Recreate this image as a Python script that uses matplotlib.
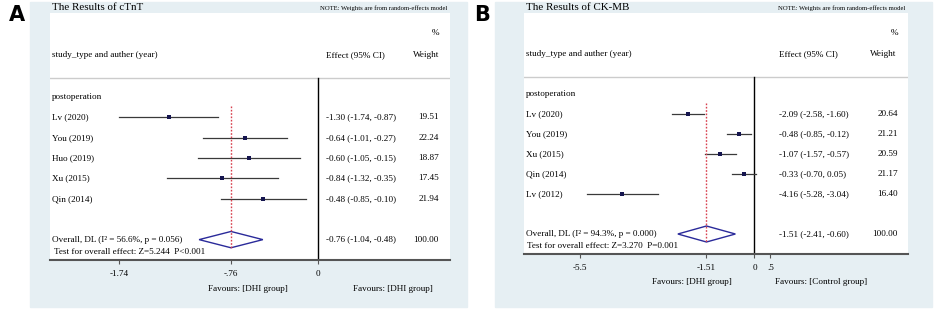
import numpy as np
import matplotlib.pyplot as plt
from matplotlib.patches import Rectangle, Polygon
from matplotlib.transforms import blended_transform_factory

plt.rcParams['font.family'] = ['Liberation Serif', 'DejaVu Serif']

W, H = 934, 309

# Panel A : cTnT
a_studies = ["Lv (2020)", "You (2019)", "Huo (2019)", "Xu (2015)", "Qin (2014)"]
a_eff = [-1.30, -0.64, -0.60, -0.84, -0.48]
a_lo = [-1.74, -1.01, -1.05, -1.32, -0.85]
a_hi = [-0.87, -0.27, -0.15, -0.35, -0.10]
a_w = [19.51, 22.24, 18.87, 17.45, 21.94]
a_overall = [-0.76, -1.04, -0.48]
a_het = "Overall, DL (I² = 56.6%, p = 0.056)"
a_test = "Test for overall effect: Z=5.244  P<0.001"
a_ticks = [-1.74, -0.76, 0]
a_ticklabels = ["-1.74", "-.76", "0"]
a_fav = ["Favours: [DHI group]", "Favours: [DHI group]"]

# Panel B : CK-MB
b_studies = ["Lv (2020)", "You (2019)", "Xu (2015)", "Qin (2014)", "Lv (2012)"]
b_eff = [-2.09, -0.48, -1.07, -0.33, -4.16]
b_lo = [-2.58, -0.85, -1.57, -0.70, -5.28]
b_hi = [-1.60, -0.12, -0.57, 0.05, -3.04]
b_w = [20.64, 21.21, 20.59, 21.17, 16.40]
b_overall = [-1.51, -2.41, -0.60]
b_het = "Overall, DL (I² = 94.3%, p = 0.000)"
b_test = "Test for overall effect: Z=3.270  P=0.001"
b_ticks = [-5.5, -1.51, 0, 0.5]
b_ticklabels = ["-5.5", "-1.51", "0", ".5"]
b_fav = ["Favours: [DHI group]", "Favours: [Control group]"]

bg = '#e6eff3'
navy = '#15154f'
fs = 6.6

fig = plt.figure(figsize=(W / 100, H / 100), dpi=100)


def fx(px):
    return px / W


def fy(py):
    return 1 - py / H


def panel(letter, title, box, ax_box, xlim, ytop, studies, eff, lo, hi, wts,
          overall, het, test, ticks, ticklabels, fav, fav_y, cols):
    x0, x1 = box
    fig.patches.append(Rectangle((fx(x0), fy(307)), fx(x1 - x0), (305) / H,
                                 transform=fig.transFigure, color=bg, zorder=-5))
    fig.text(fx(x0 - 13), fy(15), letter, fontsize=15, fontweight='bold',
             family='DejaVu Sans', ha='center', va='center')
    ax_l, ax_r, ax_t, ax_b = ax_box
    fig.text(fx(ax_l + 2), fy(7.5), title, fontsize=7.9, ha='left', va='center')
    fig.text(fx(ax_r - 3), fy(8), "NOTE: Weights are from random-effects model",
             fontsize=4.8, ha='right', va='center')
    ax = fig.add_axes([fx(ax_l), fy(ax_b), fx(ax_r - ax_l), (ax_b - ax_t) / H])
    ax.set_facecolor('white')
    ax.set_xlim(*xlim)
    ax.set_ylim(8, ytop)
    for s in ['top', 'left', 'right']:
        ax.spines[s].set_visible(False)
    ax.spines['bottom'].set_color('#555555')
    ax.spines['bottom'].set_linewidth(1.5)
    ax.set_yticks([])
    ax.set_xticks(ticks)
    ax.set_xticklabels(ticklabels, fontsize=fs)
    ax.tick_params(axis='x', length=3, width=0.8, color='#555555', pad=4)

    tr = blended_transform_factory(ax.transAxes, ax.transData)
    lab_x, eff_x, wt_x, wt_c = cols
    sep = ytop + 3.2
    ax.plot([0, 1], [sep, sep], transform=tr, color='#cccccc', lw=1)
    ax.plot([0, 0], [sep, 8], color='black', lw=1)
    ax.text(wt_x, ytop + 1.0, "%", transform=tr, fontsize=fs, ha='right', va='center')
    ax.text(lab_x, ytop + 2.05, "study_type and auther (year)", transform=tr,
            fontsize=fs, ha='left', va='center')
    ax.text(eff_x, ytop + 2.05, "Effect (95% CI)", transform=tr, fontsize=fs,
            ha='left', va='center')
    ax.text(wt_c, ytop + 2.05, "Weight", transform=tr, fontsize=fs,
            ha='center', va='center')
    ax.text(lab_x, 0, "postoperation", transform=tr, fontsize=fs, ha='left', va='center')

    rows = np.arange(1, len(studies) + 1)
    for r, name, e, l, h, w in zip(rows, studies, eff, lo, hi, wts):
        ax.plot([l, h], [r, r], color='#3a3a3a', lw=0.9)
        ax.plot(e, r, 's', color=navy, ms=3, mew=0)
        ax.text(lab_x, r, name, transform=tr, fontsize=fs, ha='left', va='center')
        ax.text(eff_x, r, f"{e:.2f} ({l:.2f}, {h:.2f})", transform=tr,
                fontsize=fs, ha='left', va='center')
        ax.text(wt_x, r, f"{w:.2f}", transform=tr, fontsize=fs, ha='right', va='center')

    e, l, h = overall
    ax.plot([e, e], [0.45, 7.42], color='#d8404e', lw=1.0, ls=(0, (1.2, 1.2)))
    ax.add_patch(Polygon([[l, 7], [e, 6.6], [h, 7], [e, 7.4]], closed=True,
                         fill=False, edgecolor='#2a2a9a', lw=1))
    ax.text(lab_x, 7, het, transform=tr, fontsize=fs, ha='left', va='center')
    ax.text(lab_x + 0.004, 7.6, test, transform=tr, fontsize=fs, ha='left', va='center')
    ax.text(eff_x, 7, f"{e:.2f} ({l:.2f}, {h:.2f})", transform=tr,
            fontsize=fs, ha='left', va='center')
    ax.text(wt_x, 7, "100.00", transform=tr, fontsize=fs, ha='right', va='center')

    fig.text(fx(fav[0][0]), fy(fav_y), fav[0][1], fontsize=fs, ha='center', va='center')
    fig.text(fx(fav[1][0]), fy(fav_y), fav[1][1], fontsize=fs, ha='center', va='center')


panel("A", "The Results of cTnT", (30, 467), (50, 450, 13, 260), (-2.349, 1.163), -4.12,
      a_studies, a_eff, a_lo, a_hi, a_w, a_overall, a_het, a_test,
      a_ticks, a_ticklabels, [(248, a_fav[0]), (393, a_fav[1])], 289,
      (0.005, 0.69, 0.9725, 0.94))
panel("B", "The Results of CK-MB", (495, 932), (524, 908, 13, 254), (-7.25, 4.83), -4.05,
      b_studies, b_eff, b_lo, b_hi, b_w, b_overall, b_het, b_test,
      b_ticks, b_ticklabels, [(692, b_fav[0]), (821, b_fav[1])], 282,
      (0.005, 0.664, 0.974, 0.935))

fig.savefig('out.png', dpi=100)
